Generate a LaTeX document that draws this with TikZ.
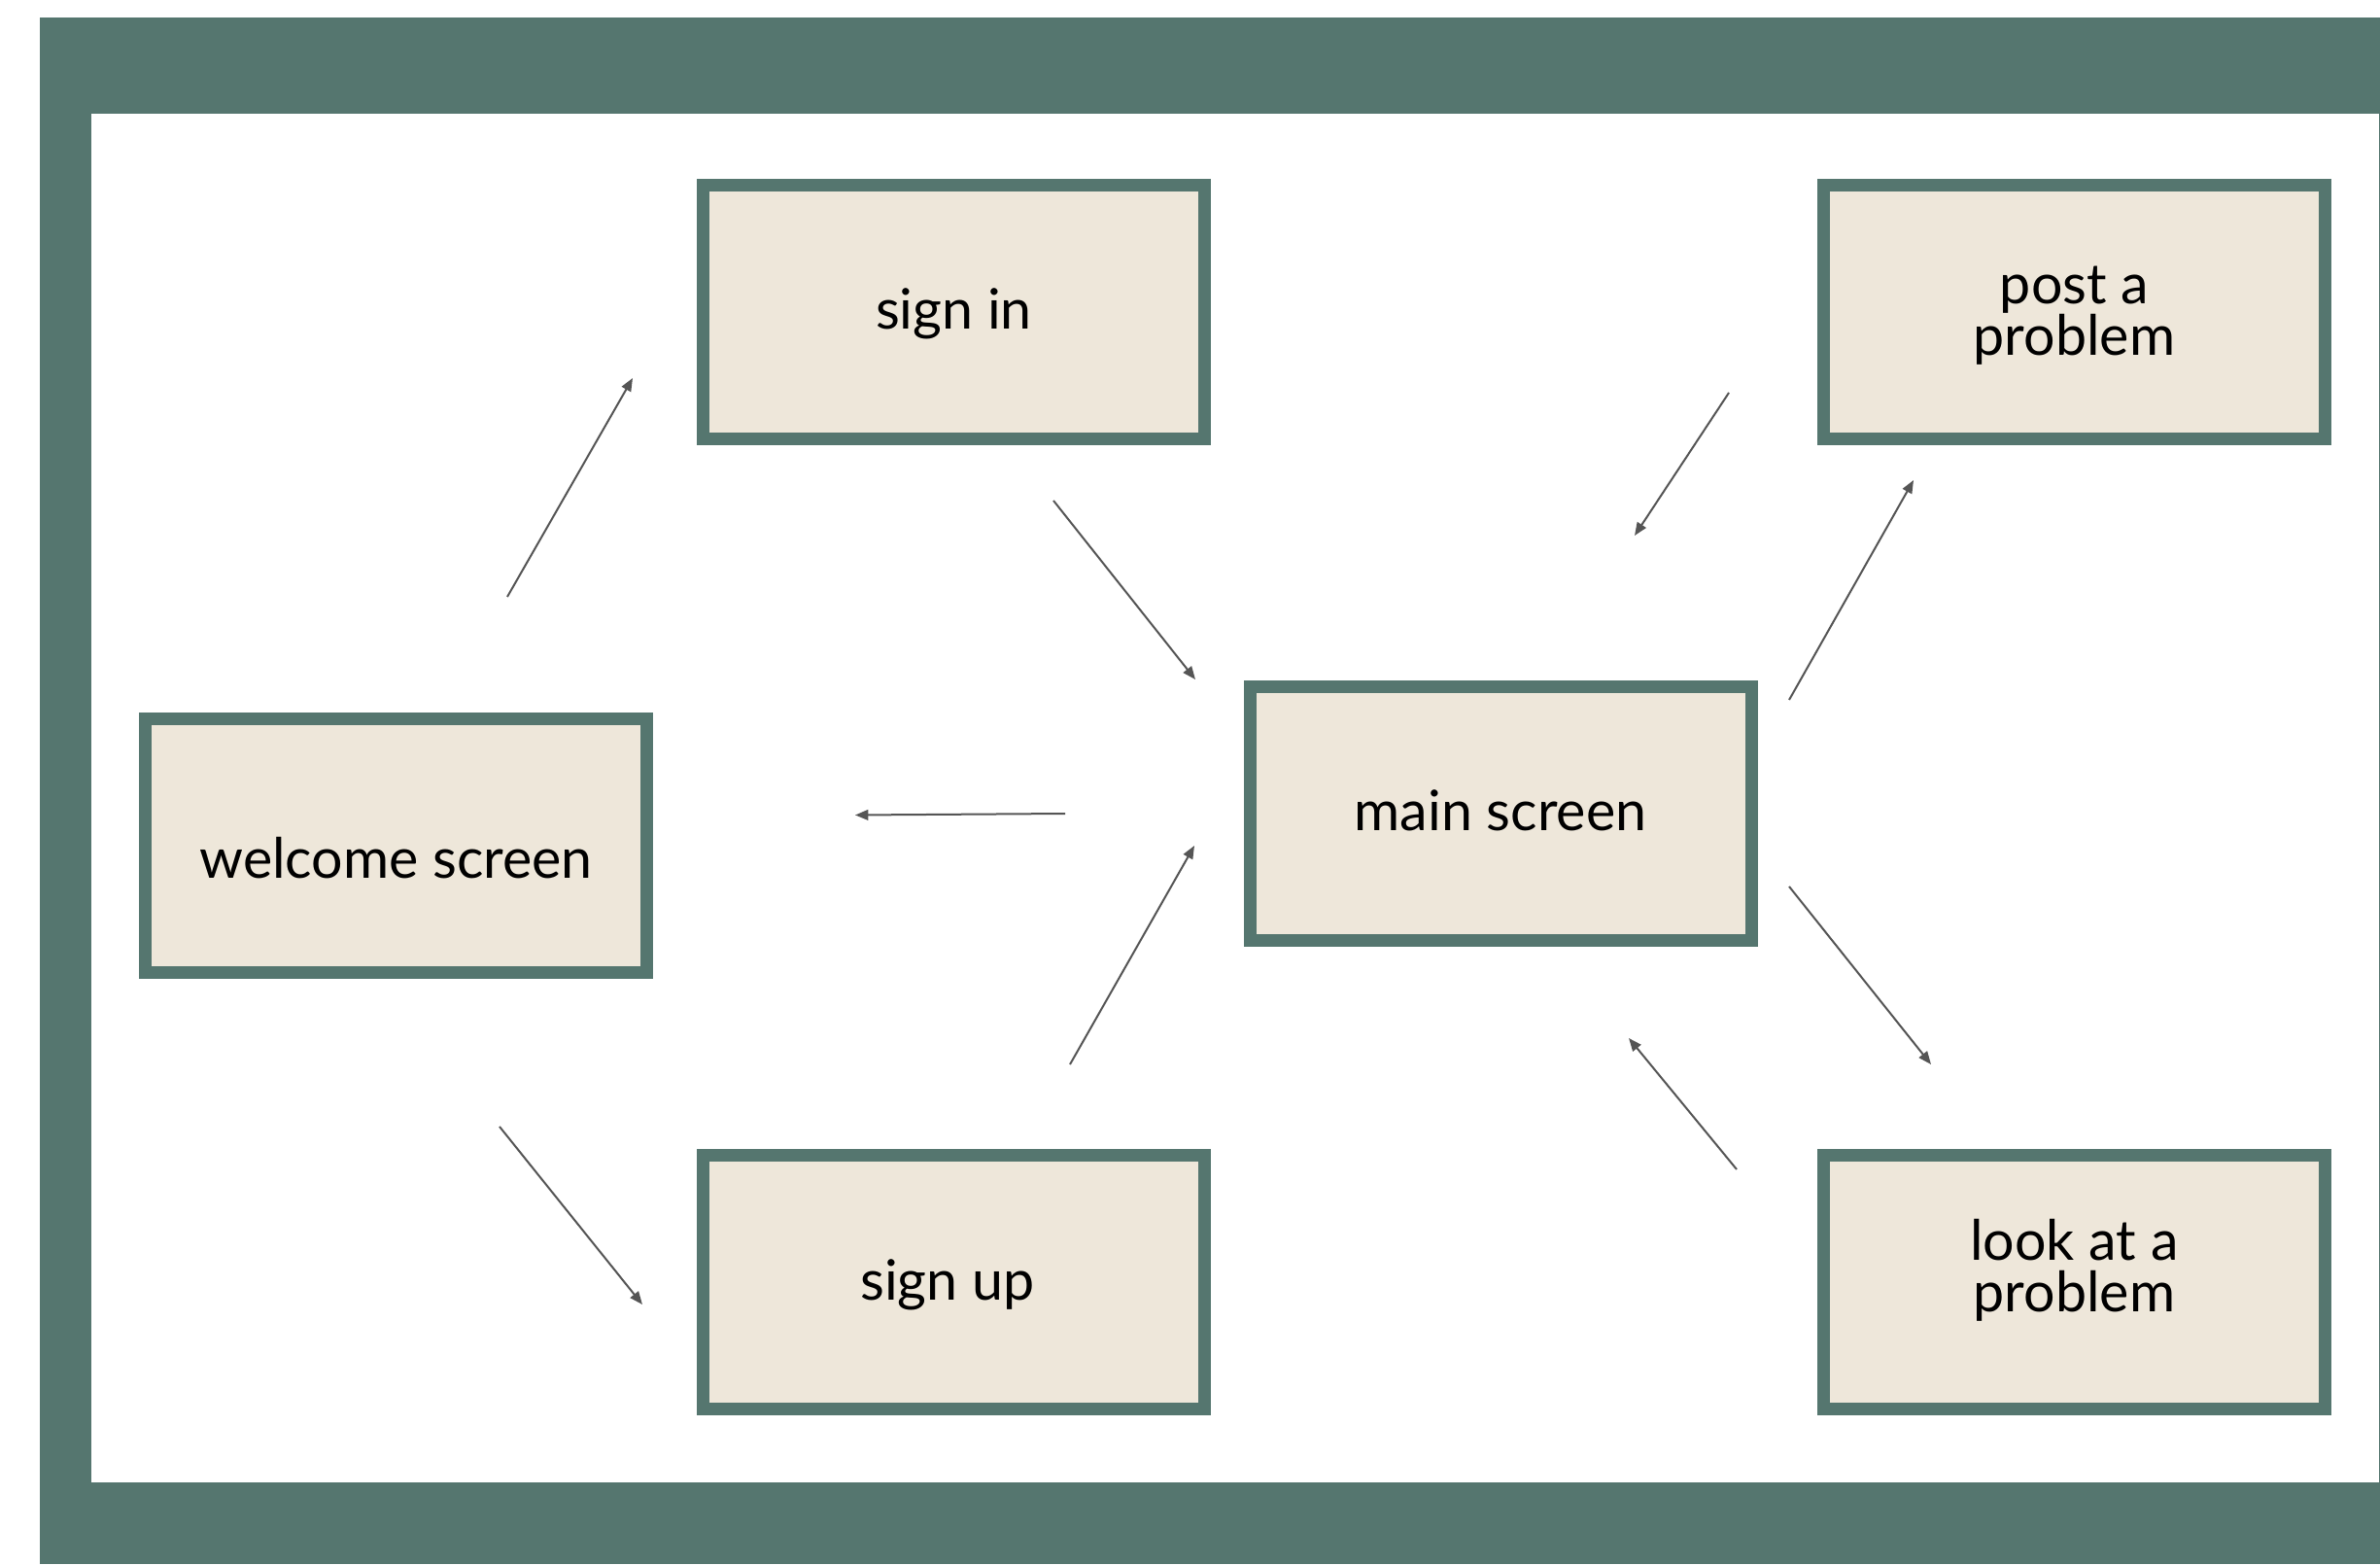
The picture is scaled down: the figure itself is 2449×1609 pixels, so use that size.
\documentclass[tikz,border=0pt]{standalone}
\usepackage{fontspec}
\setmainfont{Lato}
\usetikzlibrary{arrows.meta}
\definecolor{frame}{HTML}{55766F}
\definecolor{boxfill}{HTML}{EEE7DA}
\definecolor{arrowc}{HTML}{555555}
\begin{document}
\begin{tikzpicture}[x=0.3pt,y=-0.3pt,
  screen/.style={draw=frame, fill=boxfill, line width=3.9pt, rectangle,
    minimum width=516*0.3pt, minimum height=261*0.3pt, inner sep=0pt,
    align=center, text height=13.4pt, text depth=2.6pt,
    font=\fontsize{17.2}{15.9}\selectfont},
  twoline/.style={text height=29.3pt, text depth=2.6pt},
  flow/.style={draw=arrowc, line width=0.6pt,
    -{Triangle[length=4pt, width=3.2pt]}}]
\useasboundingbox (0,0) rectangle (2449,1609);
\fill[frame] (41,18) rectangle (2449,1609);
\fill[white] (94,117) rectangle (2448,1525);

\node[screen] (signin) at (981.5,321) {sign in};
\node[screen] (welcome) at (407.5,870) {\raisebox{-4.5pt}{welcome screen}};
\node[screen] (signup) at (981.5,1319) {\hspace*{-4pt}sign up};
\node[screen] (main) at (1544,836.5) {main screen};
\node[screen, twoline] (post) at (2134.5,321) {post a\\problem};
\node[screen, text height=25.1pt, text depth=6.8pt] (look) at (2134.5,1319) {look at a\\problem};

\coordinate (a1s) at (522,614);   \coordinate (a1e) at (651,389);
\coordinate (a2s) at (1084,515);  \coordinate (a2e) at (1230,699);
\coordinate (a3s) at (1096,837);  \coordinate (a3e) at (880,838.5);
\coordinate (a4s) at (1101,1095); \coordinate (a4e) at (1229,870);
\coordinate (a5s) at (514,1159);  \coordinate (a5e) at (661,1342);
\coordinate (a6s) at (1779,404);  \coordinate (a6e) at (1682,551);
\coordinate (a7s) at (1841,720);  \coordinate (a7e) at (1969,494);
\coordinate (a8s) at (1841,912);  \coordinate (a8e) at (1987,1095);
\coordinate (a9s) at (1787,1203); \coordinate (a9e) at (1676,1068);

\draw[flow] (a1s) -- (a1e);
\draw[flow] (a2s) -- (a2e);
\draw[flow] (a3s) -- (a3e);
\draw[flow] (a4s) -- (a4e);
\draw[flow] (a5s) -- (a5e);
\draw[flow] (a6s) -- (a6e);
\draw[flow] (a7s) -- (a7e);
\draw[flow] (a8s) -- (a8e);
\draw[flow] (a9s) -- (a9e);
\end{tikzpicture}
\end{document}
